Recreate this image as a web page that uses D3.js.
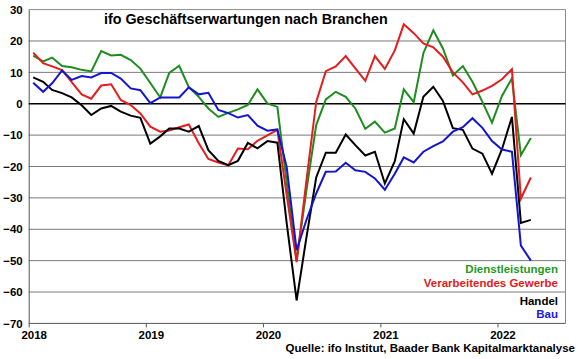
<!DOCTYPE html>
<html><head><meta charset="utf-8">
<script src="https://cdn.jsdelivr.net/npm/d3@7"></script>
<style>
html,body{margin:0;padding:0;background:#fff;}
svg{display:block;font-family:"Liberation Sans",Arial,sans-serif;}
</style></head>
<body><svg id="c" width="580" height="359"></svg>
<script>
const months = ["2018-01","2018-02","2018-03","2018-04","2018-05","2018-06","2018-07","2018-08","2018-09","2018-10","2018-11","2018-12",
"2019-01","2019-02","2019-03","2019-04","2019-05","2019-06","2019-07","2019-08","2019-09","2019-10","2019-11","2019-12",
"2020-01","2020-02","2020-03","2020-04","2020-05","2020-06","2020-07","2020-08","2020-09","2020-10","2020-11","2020-12",
"2021-01","2021-02","2021-03","2021-04","2021-05","2021-06","2021-07","2021-08","2021-09","2021-10","2021-11","2021-12",
"2022-01","2022-02","2022-03","2022-04"];
const dienstleistungen = [15.3,13.5,14.7,12.0,11.6,10.8,10.3,16.8,15.4,15.6,13.9,11.2,
6.6,2.0,9.8,12.1,5.3,2.2,-1.5,-4.2,-2.9,-1.8,-0.4,4.6,
0.1,-1.0,-25,-50,-28,-6.8,1.4,3.8,2.2,-1.5,-8.0,-5.7,
-9.2,-7.9,4.6,0.5,16.1,23.4,17.6,9.0,12.0,7.0,0.6,-6.0,
2.5,8.1,-16.4,-10.9];
const verarbeitendes = [16.3,12.9,11.9,10.7,6.9,3.0,1.6,5.8,6.2,1.2,-0.4,-3.1,
-7.3,-8.9,-8.5,-7.5,-6.6,-12.6,-17.6,-18.7,-19.6,-14.3,-14.5,-11.8,
-10.1,-8.3,-29,-50.5,-25,0.6,10.4,11.9,15.2,11.3,7.3,15.2,
11.1,17.0,25.3,22.5,19.2,18.0,15.0,10.0,6.8,3.0,4.2,5.7,
7.8,11.0,-30.2,-23.5];
const handel = [8.4,7.0,4.4,3.4,2.0,-0.5,-3.6,-1.5,-0.7,-2.5,-3.8,-4.5,
-12.7,-10.4,-7.9,-7.9,-8.9,-7.1,-14.8,-18.2,-19.6,-18.2,-12.5,-14.2,
-11.9,-12.4,-38,-62.7,-43,-23.5,-15.6,-15.6,-9.8,-13.2,-16.5,-15.3,
-25.4,-18.3,-4.9,-9.5,2.2,5.4,0.9,-7.8,-8.3,-14.3,-15.9,-22.3,
-14.5,-4.2,-38.0,-37.0];
const bau = [6.7,3.8,6.5,10.6,7.6,8.8,8.4,9.8,9.8,8.0,4.9,4.3,
0.2,2.0,2.0,2.0,5.2,3.0,3.5,-2.0,-3.0,-4.4,-3.6,-7.0,
-8.6,-8.2,-20.1,-46.7,-37.2,-28.6,-21.7,-21.6,-18.8,-21.2,-21.7,-23.8,
-27.4,-22.3,-17.1,-18.7,-15.3,-13.5,-12.0,-8.9,-7.5,-4.6,-7.7,-11.9,
-14.6,-15.3,-45.2,-50.0];
const yTicks = [30,20,10,0,-10,-20,-30,-40,-50,-60,-70];
const xTickYears = ["2018","2019","2020","2021","2022"];
const seriesNames = ["Dienstleistungen","Verarbeitendes Gewerbe","Handel","Bau"];
const seriesColors = ["#1e8c1e","#e41e1e","#000000","#1414d2"];
const legendColors = ["#1f9a1f","#e02020","#000000","#1a1ad8"];
const title = "ifo Geschäftserwartungen nach Branchen";
const source = "Quelle: ifo Institut, Baader Bank Kapitalmarktanalyse";

const svg = d3.select("#c");
const parse = d3.timeParse("%Y-%m-%d");
const x = d3.scaleTime().domain([parse("2018-01-01"), parse("2022-08-01")]).range([28.7, 565.5]);
const y = d3.scaleLinear().domain([-70, 30]).range([323.4, 9.6]);
const dates = months.map(m => parse(m + "-15"));
const allSeries = [dienstleistungen, verarbeitendes, handel, bau];

// plot frame (top and right)
svg.append("path").attr("d", `M${x.range()[0]},${y(30)}H${x.range()[1]}V${y(-70)}`)
  .attr("fill","none").attr("stroke","#8a8a8a").attr("stroke-width",1);

// gridlines
svg.append("g").selectAll("line").data(yTicks.filter(t => t !== 0 && t !== -70 && t !== 30)).join("line")
  .attr("x1", x.range()[0]).attr("x2", x.range()[1])
  .attr("y1", d => y(d)).attr("y2", d => y(d))
  .attr("stroke","#7a7a7a").attr("stroke-width",1);

// y axis
const yAxis = d3.axisLeft(y).tickValues(yTicks).tickSize(0).tickPadding(6);
const gy = svg.append("g").attr("transform", `translate(${x.range()[0]},0)`).call(yAxis);
gy.select(".domain").attr("stroke","#555").attr("stroke-width",1);
gy.selectAll("text").attr("font-size","11.5px").attr("font-weight","bold").attr("fill","#000")
  .attr("font-family","'Liberation Sans',Arial,sans-serif");

// x axis
const xAxis = d3.axisBottom(x).tickValues(xTickYears.map(yv => parse(yv + "-01-01")))
  .tickFormat(d3.timeFormat("%Y")).tickSize(4).tickPadding(3);
const gx = svg.append("g").attr("transform", `translate(0,${y(-70)})`).call(xAxis);
gx.select(".domain").attr("stroke","#555").attr("stroke-width",1).attr("d", `M${x.range()[0]},0H${x.range()[1]}`);
gx.selectAll(".tick line").attr("stroke","#555");
gx.selectAll("text").attr("font-size","11.5px").attr("font-weight","bold").attr("fill","#000")
  .attr("dx", 5).attr("font-family","'Liberation Sans',Arial,sans-serif");

// zero line
svg.append("line").attr("x1", x.range()[0]).attr("x2", x.range()[1])
  .attr("y1", y(0)).attr("y2", y(0)).attr("stroke","#000").attr("stroke-width",1.6);

// lines
const line = d3.line().x((d,i) => x(dates[i])).y(d => y(d));
allSeries.forEach((s, k) => {
  svg.append("path").datum(s).attr("d", line).attr("fill","none")
    .attr("stroke", seriesColors[k]).attr("stroke-width", 2).attr("stroke-linejoin","miter");
});

// title
svg.append("text").attr("x", 104).attr("y", 23.5).text(title)
  .attr("font-size","14.3px").attr("font-weight","bold").attr("fill","#000");

// legend
const legendY = [272.5, 287, 305, 317.5];
seriesNames.forEach((n,k) => {
  svg.append("text").attr("x", 558).attr("y", legendY[k]).attr("text-anchor","end").text(n)
    .attr("font-size","11.5px").attr("font-weight","bold").attr("fill", legendColors[k]);
});

// source
svg.append("text").attr("x", 575).attr("y", 352).attr("text-anchor","end").text(source)
  .attr("font-size","11.5px").attr("font-weight","bold").attr("fill","#000");
</script>
</body></html>
